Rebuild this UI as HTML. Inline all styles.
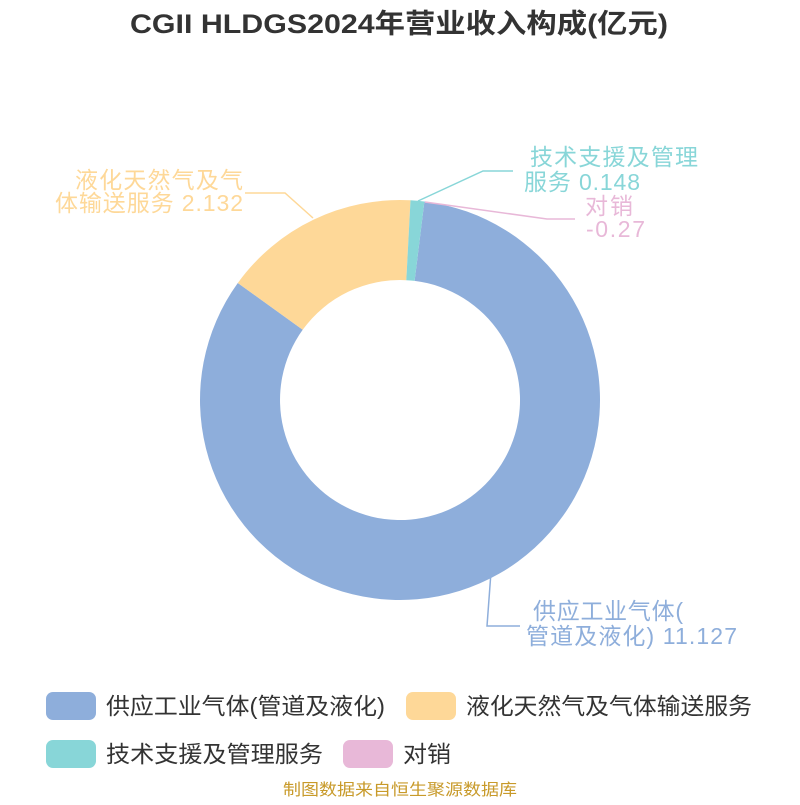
<!DOCTYPE html>
<html><head><meta charset="utf-8"><style>
body{margin:0;background:#fff;width:800px;height:800px;overflow:hidden;font-family:"Liberation Sans","Noto Sans CJK SC",sans-serif}
</style></head><body>
<svg width="800" height="800" xmlns="http://www.w3.org/2000/svg" font-family="Liberation Sans, Noto Sans CJK SC, sans-serif">
<text x="130" y="33" textLength="538" lengthAdjust="spacingAndGlyphs" font-size="27" font-weight="bold" fill="#333">CGII HLDGS2024年营业收入构成(亿元)</text>
<path d="M424.4,201.5 A200,200 0 1 1 237.8,283.0 L302.7,329.8 A120,120 0 1 0 414.6,280.9 Z" fill="#8eaedb"/>
<path d="M237.8,283.0 A200,200 0 0 1 410.5,200.3 L406.3,280.2 A120,120 0 0 0 302.7,329.8 Z" fill="#fed898"/>
<path d="M410.5,200.3 A200,200 0 0 1 424.4,201.5 L414.6,280.9 A120,120 0 0 0 406.3,280.2 Z" fill="#88d6d8"/>
<g fill="none" stroke-width="1.5">
<polyline points="313,218 285,193 245,193" stroke="#fed898"/>
<polyline points="418,201 483,171 513,171" stroke="#88d6d8"/>
<polyline points="425,202 547,219 575,219" stroke="#e8b8d8"/>
<polyline points="491,572 487,626 520,626" stroke="#8eaedb"/>
</g>
<g font-size="23" lengthAdjust="spacingAndGlyphs">
<text x="75" y="188" textLength="168" fill="#fed898">液化天然气及气</text>
<text x="55" y="211" textLength="188" fill="#fed898">体输送服务 2.132</text>
<text x="530" y="165" textLength="168" fill="#88d6d8">技术支援及管理</text>
<text x="524" y="190" textLength="116" fill="#88d6d8">服务 0.148</text>
<text x="585" y="214" textLength="48" fill="#e8b8d8">对销</text>
<text x="586" y="237" textLength="59" fill="#e8b8d8">-0.27</text>
<text x="533" y="619" textLength="150" fill="#8eaedb">供应工业气体(</text>
<text x="526" y="644" textLength="211" fill="#8eaedb">管道及液化) 11.127</text>
</g>
<g font-size="23" fill="#333">
<rect x="46" y="692" width="50" height="28" rx="7" fill="#8eaedb"/>
<text x="106" y="714" textLength="279" lengthAdjust="spacingAndGlyphs">供应工业气体(管道及液化)</text>
<rect x="406" y="692" width="50" height="28" rx="7" fill="#fed898"/>
<text x="466" y="714" textLength="286" lengthAdjust="spacingAndGlyphs">液化天然气及气体输送服务</text>
<rect x="46" y="740" width="50" height="28" rx="7" fill="#88d6d8"/>
<text x="106" y="762" textLength="217" lengthAdjust="spacingAndGlyphs">技术支援及管理服务</text>
<rect x="343" y="740" width="50" height="28" rx="7" fill="#e8b8d8"/>
<text x="403" y="762" textLength="48" lengthAdjust="spacingAndGlyphs">对销</text>
</g>
<text x="283" y="795" textLength="234" lengthAdjust="spacingAndGlyphs" font-size="16" fill="#c89a2a">制图数据来自恒生聚源数据库</text>
</svg>
</body></html>
